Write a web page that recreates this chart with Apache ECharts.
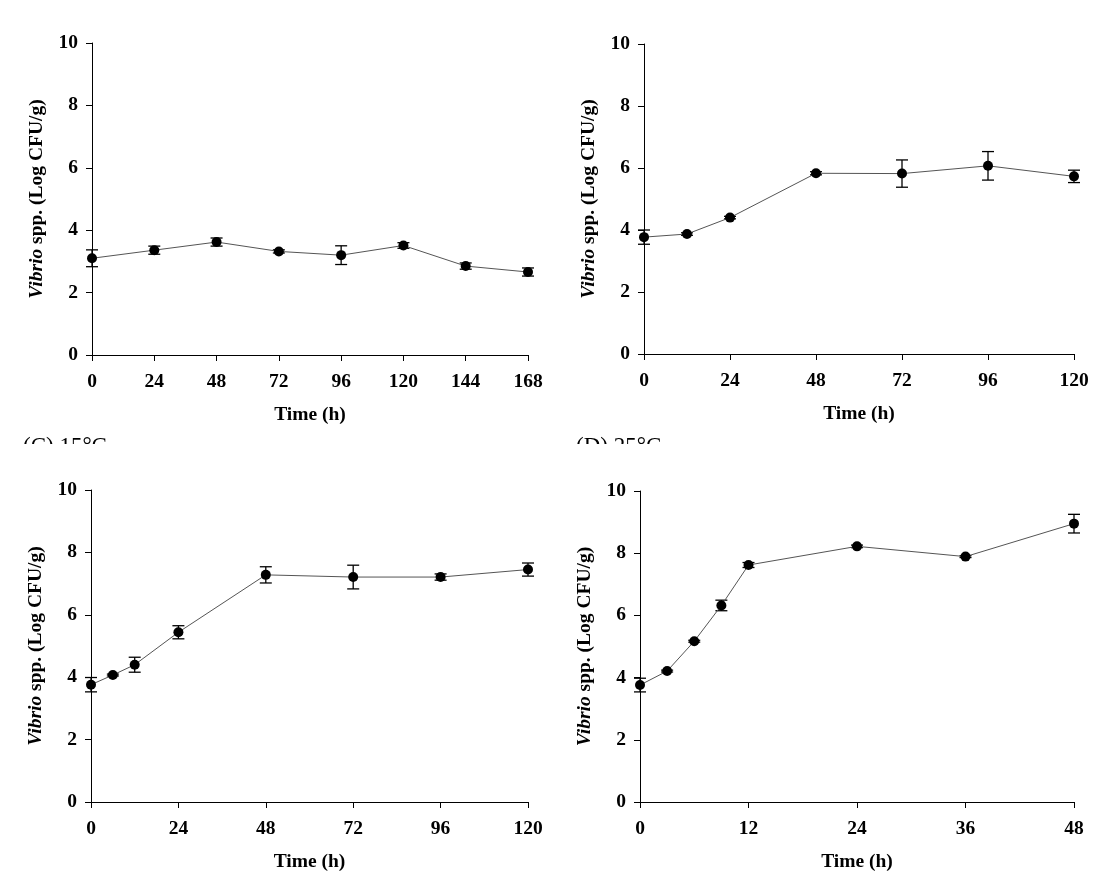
<!DOCTYPE html>
<html>
<head>
<meta charset="utf-8">
<script src="https://cdn.jsdelivr.net/npm/echarts@6/dist/echarts.min.js"></script>
<style>html,body{margin:0;padding:0;background:#fff}#c{width:1116px;height:881px}</style>
</head>
<body>
<div id="c"></div>
<script>
// Panel A (top-left)
const timeA = [0, 24, 48, 72, 96, 120, 144, 168];
const meanA = [3.10, 3.36, 3.62, 3.32, 3.20, 3.51, 2.85, 2.66];
const sdA   = [0.27, 0.13, 0.13, 0.05, 0.30, 0.09, 0.10, 0.13];
// Panel B (top-right)
const timeB = [0, 12, 24, 48, 72, 96, 120];
const meanB = [3.77, 3.87, 4.40, 5.83, 5.82, 6.07, 5.73];
const sdB   = [0.23, 0.04, 0.04, 0.05, 0.44, 0.46, 0.20];
// Panel C (bottom-left)
const timeC = [0, 6, 12, 24, 48, 72, 96, 120];
const meanC = [3.76, 4.07, 4.40, 5.44, 7.28, 7.21, 7.21, 7.45];
const sdC   = [0.23, 0.03, 0.24, 0.21, 0.26, 0.38, 0.10, 0.21];
// Panel D (bottom-right)
const timeD = [0, 3, 6, 9, 12, 24, 36, 48];
const meanD = [3.76, 4.21, 5.17, 6.32, 7.62, 8.22, 7.89, 8.95];
const sdD   = [0.22, 0.03, 0.03, 0.17, 0.08, 0.04, 0.03, 0.30];
// Axis settings
const xMaxes = [168, 120, 120, 48];
const xSteps = [24, 24, 24, 12];
const yMin = 0, yMax = 10, yStep = 2;
const yName = '{i|Vibrio} spp. (Log CFU/g)';
const xName = 'Time (h)';
const panelLabels = ['(C) 15\u00B0C', '(D) 25\u00B0C'];

const FONT = '"Liberation Serif", "Times New Roman", serif';
const FS = 19.5;
const grids = [
  {left: 92, top: 43, width: 436, height: 312},
  {left: 644, top: 44, width: 430, height: 310},
  {left: 91, top: 490, width: 437, height: 312},
  {left: 640, top: 491, width: 434, height: 311}
];
const panels = [
  [timeA, meanA, sdA], [timeB, meanB, sdB], [timeC, meanC, sdC], [timeD, meanD, sdD]
];

const labelStyle = {fontFamily: FONT, fontWeight: 'bold', fontSize: FS, color: '#000'};
const xAxis = [], yAxis = [], series = [];
panels.forEach((p, i) => {
  xAxis.push({
    gridIndex: i, type: 'value', min: 0, max: xMaxes[i], interval: xSteps[i],
    name: xName, nameLocation: 'middle', nameGap: 50,
    nameTextStyle: {fontFamily: FONT, fontWeight: 'bold', fontSize: FS, color: '#000'},
    axisLine: {show: true, lineStyle: {color: '#000', width: 1}},
    axisTick: {show: true, inside: false, length: 6, lineStyle: {color: '#000'}},
    axisLabel: Object.assign({margin: 17}, labelStyle),
    splitLine: {show: false}
  });
  yAxis.push({
    gridIndex: i, type: 'value', min: yMin, max: yMax, interval: yStep,
    name: yName, nameLocation: 'middle', nameGap: 45,
    nameTextStyle: {
      fontFamily: FONT, fontWeight: 'bold', fontSize: FS, color: '#000',
      rich: {i: {fontFamily: FONT, fontWeight: 'bold', fontStyle: 'italic', fontSize: FS, color: '#000'}}
    },
    axisLine: {show: true, lineStyle: {color: '#000', width: 1}},
    axisTick: {show: true, inside: false, length: 6, lineStyle: {color: '#000'}},
    axisLabel: Object.assign({margin: 14}, labelStyle),
    splitLine: {show: false}
  });
  const [t, m, s] = p;
  series.push({
    type: 'custom', xAxisIndex: i, yAxisIndex: i, z: 2,
    data: t.map((x, k) => [x, m[k] - s[k], m[k] + s[k]]),
    encode: {x: 0, y: [1, 2]},
    clip: false,
    renderItem: function (params, api) {
      const x = api.value(0);
      const lo = api.coord([x, api.value(1)]);
      const hi = api.coord([x, api.value(2)]);
      const w = 6;
      const st = {stroke: '#000', lineWidth: 1.3};
      return {type: 'group', children: [
        {type: 'line', shape: {x1: lo[0], y1: lo[1], x2: hi[0], y2: hi[1]}, style: st},
        {type: 'line', shape: {x1: lo[0] - w, y1: lo[1], x2: lo[0] + w, y2: lo[1]}, style: st},
        {type: 'line', shape: {x1: hi[0] - w, y1: hi[1], x2: hi[0] + w, y2: hi[1]}, style: st}
      ]};
    }
  });
  series.push({
    type: 'line', xAxisIndex: i, yAxisIndex: i, z: 3,
    data: t.map((x, k) => [x, m[k]]),
    symbol: 'circle', symbolSize: 10,
    lineStyle: {color: '#555', width: 1},
    itemStyle: {color: '#000'},
    clip: false,
    animation: false
  });
});

const graphic = [
  {type: 'text', left: 23, top: 435, z: 1, style: {text: panelLabels[0], fontFamily: FONT, fontSize: 23, fill: '#000'}},
  {type: 'text', left: 576, top: 435, z: 1, style: {text: panelLabels[1], fontFamily: FONT, fontSize: 23, fill: '#000'}},
  {type: 'rect', left: 0, top: 444, z: 5, shape: {width: 1116, height: 24}, style: {fill: '#fff'}}
];

const chart = echarts.init(document.getElementById('c'), null, {renderer: 'canvas'});
chart.setOption({
  animation: false,
  backgroundColor: '#fff',
  grid: grids,
  xAxis: xAxis,
  yAxis: yAxis,
  series: series,
  graphic: graphic
});
</script>
</body>
</html>
